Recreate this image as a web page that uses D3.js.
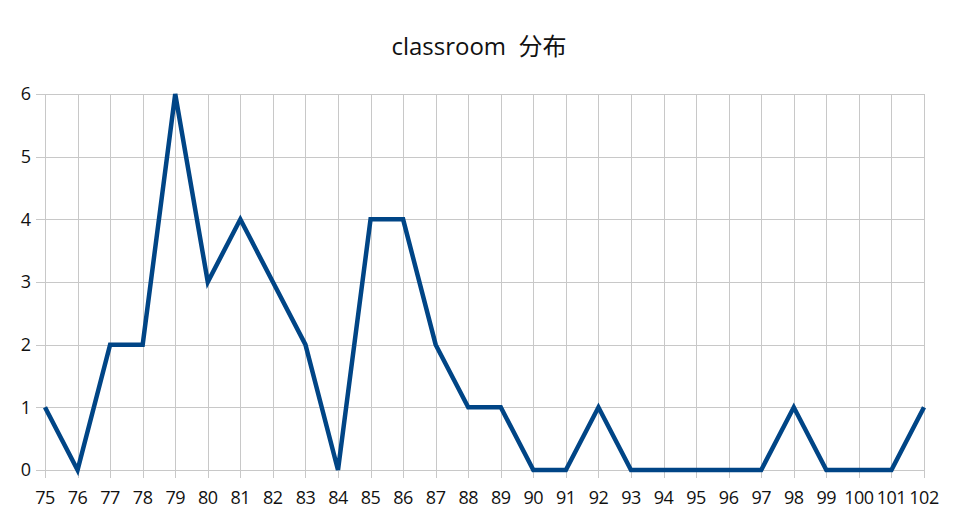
<!DOCTYPE html>
<meta charset="utf-8">
<style>
  body { margin: 0; background: #fff; }
  svg text { font-family: "Open Sans", "Noto Sans CJK SC", sans-serif; fill: #111; }
</style>
<svg width="959" height="521"></svg>
<script src="https://cdnjs.cloudflare.com/ajax/libs/d3/7.8.5/d3.min.js"></script>
<script>
var categories = [75, 76, 77, 78, 79, 80, 81, 82, 83, 84, 85, 86, 87, 88, 89, 90, 91, 92, 93, 94, 95, 96, 97, 98, 99, 100, 101, 102];
var counts = [1, 0, 2, 2, 6, 3, 4, 3, 2, 0, 4, 4, 2, 1, 1, 0, 0, 1, 0, 0, 0, 0, 0, 1, 0, 0, 0, 1];
var yTicks = [0, 1, 2, 3, 4, 5, 6];
var title = "classroom  分布";

var svg = d3.select("svg"),
    plotL = 45, plotR = 924, plotT = 94, plotB = 470;

var x = d3.scaleLinear().domain([75, 102]).range([plotL, plotR]);
var y = d3.scaleLinear().domain([0, 6]).range([plotB, plotT]);

// grid
svg.append("g")
    .selectAll("line")
    .data(yTicks)
    .enter().append("line")
    .attr("x1", plotL - 9).attr("x2", plotR)
    .attr("y1", function(d) { return Math.round(y(d)) + 0.5; })
    .attr("y2", function(d) { return Math.round(y(d)) + 0.5; })
    .attr("stroke", "#c8c8c8").attr("stroke-width", 1);

svg.append("g")
    .selectAll("line")
    .data(categories)
    .enter().append("line")
    .attr("x1", function(d) { return Math.round(x(d)) + 0.5; })
    .attr("x2", function(d) { return Math.round(x(d)) + 0.5; })
    .attr("y1", plotT).attr("y2", plotB + 8)
    .attr("stroke", "#c8c8c8").attr("stroke-width", 1);

// y labels
svg.append("g")
    .selectAll("text")
    .data(yTicks)
    .enter().append("text")
    .attr("x", 31).attr("y", function(d) { return y(d); })
    .attr("dy", "0.36em")
    .attr("text-anchor", "end")
    .style("font-size", "18px")
    .text(function(d) { return d; });

// x labels
svg.append("g")
    .selectAll("text")
    .data(categories)
    .enter().append("text")
    .attr("x", function(d) { return x(d); })
    .attr("y", 504)
    .attr("text-anchor", "middle")
    .style("font-size", "18px")
    .style("letter-spacing", "-0.5px")
    .text(function(d) { return d; });

// line
var line = d3.line()
    .x(function(d, i) { return x(categories[i]); })
    .y(function(d) { return y(d); });

svg.append("path")
    .datum(counts)
    .attr("d", line)
    .attr("fill", "none")
    .attr("stroke", "#004586")
    .attr("stroke-width", 4.5)
    .attr("stroke-linejoin", "miter");

svg.append("text")
    .attr("x", 479).attr("y", 55)
    .attr("text-anchor", "middle")
    .style("font-size", "24px")
    .style("white-space", "pre")
    .text(title);
</script>
